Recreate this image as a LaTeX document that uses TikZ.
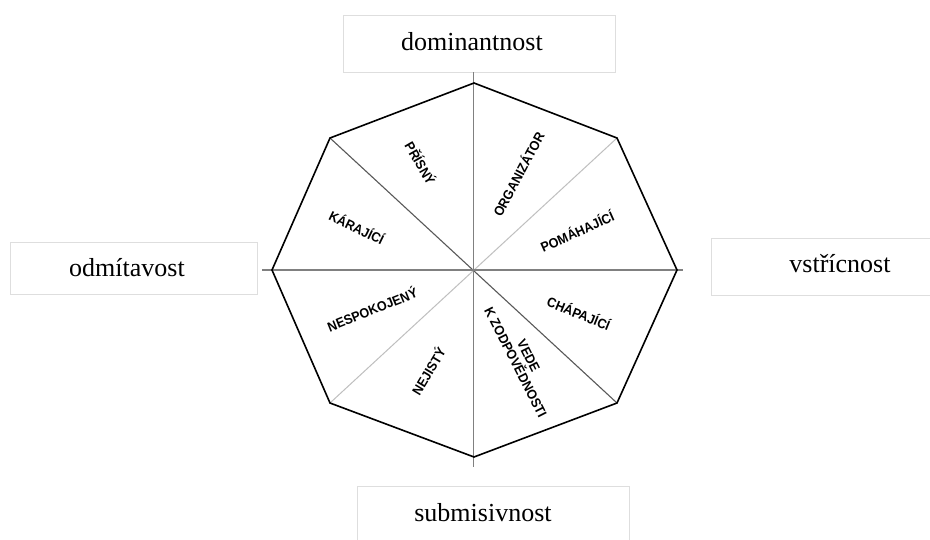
\documentclass[tikz,border=0pt]{standalone}
\usepackage{fontspec}
\setmainfont{Liberation Serif}
\newfontfamily\lblfont[FakeStretch=0.93]{Liberation Sans}
\begin{document}
\begin{tikzpicture}[x=1pt,y=-1pt,
  boxline/.style={draw=black!13,line width=1pt,fill=white},
  boxtext/.style={font=\fontsize{26}{30}\selectfont,inner sep=0pt},
  axisline/.style={draw=black!50,line width=1.4pt},
  diagdark/.style={draw=black!65,line width=1.1pt},
  diaglight/.style={draw=black!25,line width=1pt},
  octline/.style={draw=black,line width=1.6pt,line join=miter},
  lbl/.style={font=\lblfont\bfseries\fontsize{13.5}{14.5}\selectfont,inner sep=0pt,align=center}]
\useasboundingbox (0,0) rectangle (930,539);
% octagon vertices
\coordinate (c) at (473.5,270);
\coordinate (vT) at (474,83);
\coordinate (vUR) at (617,138);
\coordinate (vR) at (677,270);
\coordinate (vLR) at (617,403);
\coordinate (vB) at (474,457);
\coordinate (vLL) at (330,403);
\coordinate (vL) at (272,270);
\coordinate (vUL) at (330,138);
% axis ends
\coordinate (axT) at (473.5,72);
\coordinate (axB) at (473.5,467);
\coordinate (axL) at (262,270);
\coordinate (axR) at (683,270);
% boxes
\draw[boxline] (343,15) rectangle (615,72);
\draw[boxline] (10,242) rectangle (257,294);
\draw[boxline] (931,238) -- (711,238) -- (711,295) -- (931,295);
\draw[boxline] (357,540) -- (357,486) -- (629,486) -- (629,540);
\node[boxtext] (dom) at (472,42) {dominantnost};
\node[boxtext] (odm) at (127,268) {odmítavost};
\node[boxtext] (vst) at (840,264) {vstřícnost};
\node[boxtext] (sub) at (483,513) {submisivnost};
% octagon fill
\fill[white] (vT) -- (vUR) -- (vR) -- (vLR) -- (vB) -- (vLL) -- (vL) -- (vUL) -- cycle;
% diagonals and axes
\draw[diaglight] (vUR) -- (vLL);
\draw[diagdark] (vUL) -- (vLR);
\draw[axisline] (axT) -- (axB);
\draw[axisline] (axL) -- (axR);
% octagon outline
\draw[octline] (vT) -- (vUR) -- (vR) -- (vLR) -- (vB) -- (vLL) -- (vL) -- (vUL) -- cycle;
% labels
\node[lbl,rotate=-60] (l1) at (421,163) {PŘÍSNÝ};
\node[lbl,rotate=62] (l2) at (518,174) {ORGANIZÁTOR};
\node[lbl,rotate=-26] (l3) at (357,227) {KÁRAJÍCÍ};
\node[lbl,rotate=24] (l4) at (577,231) {POMÁHAJÍCÍ};
\node[lbl,rotate=22] (l5) at (372,309) {NESPOKOJENÝ};
\node[lbl,rotate=-22] (l6) at (579,313) {CHÁPAJÍCÍ};
\node[lbl,rotate=59] (l7) at (428,371) {NEJISTÝ};
\node[lbl,rotate=-63] (l8) at (522,359) {VEDE\\K ZODPOVĚDNOSTI};
\end{tikzpicture}
\end{document}
